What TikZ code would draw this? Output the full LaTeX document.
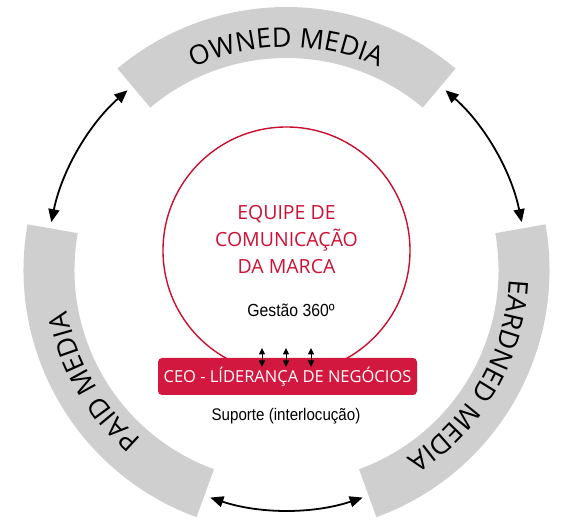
\documentclass[tikz,border=0pt]{standalone}
\usepackage{fontspec}
\setmainfont{Open Sans}
\newfontfamily\myr{Open Sans}
\newfontfamily\narrowfont[FakeStretch=0.9]{Liberation Sans}
\usetikzlibrary{arrows.meta,decorations.text,calc}
\definecolor{bandgray}{HTML}{CFCFCF}
\definecolor{ringred}{HTML}{C8102E}
\definecolor{boxred}{HTML}{D3183F}
\definecolor{txtred}{HTML}{CC1236}
\tikzset{
  band/.style={fill=bandgray},
  conn/.style={line width=1.8pt, {Triangle[length=13pt,width=11pt]}-{Triangle[length=13pt,width=11pt]}},
  small/.style={line width=1pt, {Triangle[length=6.5pt,width=6pt]}-{Triangle[length=6.5pt,width=6pt]}},
  ceobox/.style={fill=boxred, rounded corners=4pt, minimum width=259pt, minimum height=37pt, inner sep=0pt, text=white, font=\myr\fontsize{16.5}{18}\selectfont},
}
\begin{document}
\begin{tikzpicture}[x=1pt,y=1pt]
\useasboundingbox (0,0) rectangle (575,530);
\coordinate (C) at (286.5,260);
% bands
\foreach \a/\b in {130/50, 250/170, 10/-70}{
  \fill[band] ($(C)+(\a:263)$) arc[start angle=\a, end angle=\b, radius=263]
    -- ($(C)+(\b:212)$) arc[start angle=\b, end angle=\a, radius=212] -- cycle;
}
% band texts
\path[decorate, decoration={text along path, text align=center,
  text={|\myr\fontsize{27}{30}\selectfont|OWNED MEDIA}}]
  ($(C)+(130:223)$) arc[start angle=130, end angle=50, radius=223];
\path[decorate, decoration={text along path, text align=center,
  text={|\myr\fontsize{27}{30}\selectfont|PAID MEDIA}}]
  ($(C)+(250:223)$) arc[start angle=250, end angle=170, radius=223];
\path[decorate, decoration={text along path, text align=center,
  text={|\myr\fontsize{27}{30}\selectfont|EARDNED MEDIA}}]
  ($(C)+(10:223)$) arc[start angle=10, end angle=-70, radius=223];
% connectors between bands
\coordinate (a1) at ($(C)+(131.5:240)$);
\coordinate (a2) at ($(C)+(48.5:240)$);
\coordinate (a3) at ($(C)+(251.5:240)$);
\draw[conn] (a1) arc[start angle=131.5, end angle=168.5, radius=240];
\draw[conn] (a2) arc[start angle=48.5, end angle=11.5, radius=240];
\draw[conn] (a3) arc[start angle=251.5, end angle=288.5, radius=240];
% red circle
\node[circle, draw=ringred, line width=1.4pt, minimum size=247pt, inner sep=0pt] (team) at (286.5,279.5) {};
\node[text=txtred, align=center, font=\myr\fontsize{19.5}{27}\selectfont] (teamtxt) at (286.5,290) {EQUIPE DE\\COMUNICAÇÃO\\DA MARCA};
\node[font=\narrowfont\fontsize{17.5}{19}\selectfont] (gest) at (291,220) {Gestão 360º};
% CEO box
\node[ceobox] (ceo) at (287.5,153.5) {CEO - LÍDERANÇA DE NEGÓCIOS};
\node[font=\narrowfont\fontsize{16.8}{18}\selectfont] (sup) at (286,114) {Suporte (interlocução)};
% small arrows
\foreach \x/\n in {262/p1, 286/p2, 311/p3}{
  \coordinate (\n t) at (\x,182);
  \coordinate (\n b) at (\x,163);
  \draw[small] (\n t) -- (\n b);
}
\end{tikzpicture}
\end{document}
